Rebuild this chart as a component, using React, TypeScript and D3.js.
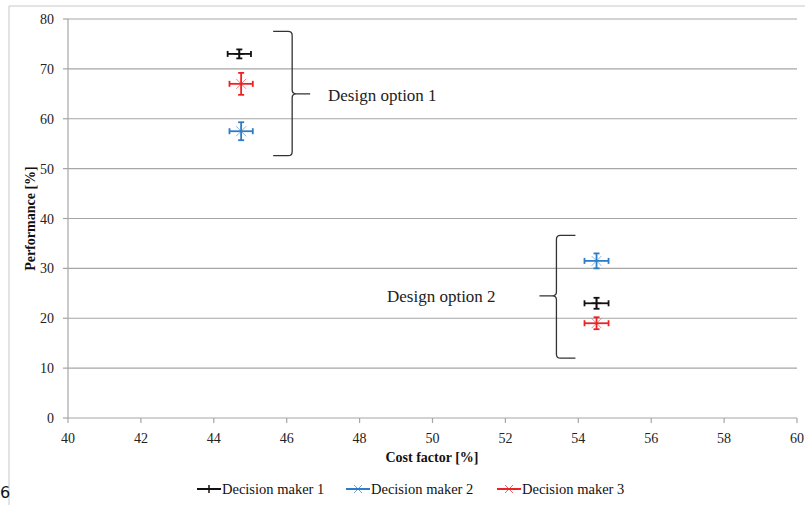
import React from "react";
import * as d3 from "d3";

// Decision makers and their ratings per design option
const makers = ["Decision maker 1", "Decision maker 2", "Decision maker 3"];
const makerColors = ["#111111", "#2f7cc6", "#ee2222"];
const makerMarkers = ["plus", "star", "star"];

// Design option 1
const opt1Cost = [44.7, 44.75, 44.75];
const opt1Perf = [73, 57.5, 67];
const opt1CostErr = [0.32, 0.32, 0.32];
const opt1PerfErr = [0.9, 1.8, 2.2];

// Design option 2
const opt2Cost = [54.5, 54.5, 54.5];
const opt2Perf = [23, 31.5, 19];
const opt2CostErr = [0.33, 0.33, 0.33];
const opt2PerfErr = [1.1, 1.5, 1.2];

const xTicks = [40, 42, 44, 46, 48, 50, 52, 54, 56, 58, 60];
const yTicks = [0, 10, 20, 30, 40, 50, 60, 70, 80];

const W = 805;
const H = 505;
const M = { left: 68, right: 8, top: 19, bottom: 87 };

const x = d3.scaleLinear().domain([40, 60]).range([M.left, W - M.right]);
const y = d3.scaleLinear().domain([0, 80]).range([H - M.bottom, M.top]);

const FONT = "'Liberation Serif', 'Times New Roman', serif";
const GRID = "#a6a6a6";

type Pt = { cx: number; cy: number; ex: number; ey: number; color: string; marker: string };

const points: Pt[] = [];
makers.forEach((_, i) => {
  points.push({ cx: opt1Cost[i], cy: opt1Perf[i], ex: opt1CostErr[i], ey: opt1PerfErr[i], color: makerColors[i], marker: makerMarkers[i] });
  points.push({ cx: opt2Cost[i], cy: opt2Perf[i], ex: opt2CostErr[i], ey: opt2PerfErr[i], color: makerColors[i], marker: makerMarkers[i] });
});

function Marker({ px, py, color, kind }: { px: number; py: number; color: string; kind: string }) {
  const s = 5;
  if (kind === "plus") {
    return (
      <g stroke={color} strokeWidth={1.5}>
        <line x1={px - s} x2={px + s} y1={py} y2={py} />
        <line x1={px} x2={px} y1={py - s} y2={py + s} />
      </g>
    );
  }
  return (
    <g stroke={color} strokeWidth={1} opacity={0.55}>
      <line x1={px - s} x2={px + s} y1={py - s} y2={py + s} />
      <line x1={px - s} x2={px + s} y1={py + s} y2={py - s} />
      <line x1={px} x2={px} y1={py - s} y2={py + s} />
    </g>
  );
}

function ErrorCross({ p }: { p: Pt }) {
  const px = x(p.cx);
  const py = y(p.cy);
  const x0 = x(p.cx - p.ex);
  const x1 = x(p.cx + p.ex);
  const y0 = y(p.cy - p.ey);
  const y1 = y(p.cy + p.ey);
  const c = 3;
  return (
    <g>
      <Marker px={px} py={py} color={p.color} kind={p.marker} />
      <g stroke={p.color} strokeWidth={1.8}>
        <line x1={x0} x2={x1} y1={py} y2={py} />
        <line x1={x0} x2={x0} y1={py - c} y2={py + c} />
        <line x1={x1} x2={x1} y1={py - c} y2={py + c} />
        <line x1={px} x2={px} y1={y0} y2={y1} />
        <line x1={px - c} x2={px + c} y1={y0} y2={y0} />
        <line x1={px - c} x2={px + c} y1={y1} y2={y1} />
      </g>
    </g>
  );
}

// Curly brace: vertical spine at xs from y top to y bottom, tip at yMid pointing in dir (+1 right, -1 left)
function Brace({ xs, yTop, yBot, yMid, dir, arm, tip }: { xs: number; yTop: number; yBot: number; yMid: number; dir: number; arm: number; tip: number }) {
  const r = 4;
  const d = [
    `M${xs - dir * arm},${yTop}`,
    `L${xs - dir * r},${yTop}`,
    `Q${xs},${yTop} ${xs},${yTop + r}`,
    `L${xs},${yMid - r}`,
    `Q${xs},${yMid} ${xs + dir * r},${yMid}`,
    `L${xs + dir * tip},${yMid}`,
    `M${xs + dir * r},${yMid}`,
    `Q${xs},${yMid} ${xs},${yMid + r}`,
    `L${xs},${yBot - r}`,
    `Q${xs},${yBot} ${xs - dir * r},${yBot}`,
    `L${xs - dir * arm},${yBot}`,
  ].join(" ");
  return <path d={d} fill="none" stroke="#333" strokeWidth={1.3} />;
}

export default function App() {
  return (
    <svg width={W} height={H} style={{ position: "absolute", left: 0, top: 0, background: "#fff" }}>
      {/* outer frame */}
      <path d={`M9,${H} L9,6 L${W},6`} fill="none" stroke="#c8c8c8" strokeWidth={1} />
      <text x={0} y={498} fontFamily="'DejaVu Sans', sans-serif" fontSize={16} fill="#111">6</text>

      {/* gridlines */}
      {yTicks.map((t) => (
        <line key={`g${t}`} x1={x(40)} x2={x(60)} y1={y(t)} y2={y(t)} stroke={GRID} strokeWidth={1.2} />
      ))}
      {/* y axis */}
      <line x1={x(40)} x2={x(40)} y1={y(0)} y2={y(80)} stroke={GRID} strokeWidth={1.2} />
      {yTicks.map((t) => (
        <g key={`yt${t}`}>
          <line x1={x(40) - 5} x2={x(40)} y1={y(t)} y2={y(t)} stroke={GRID} strokeWidth={1.2} />
          <text x={x(40) - 14} y={y(t) + 5} textAnchor="end" fontFamily={FONT} fontSize={14} fill="#222">{t}</text>
        </g>
      ))}
      {/* x axis ticks */}
      {xTicks.map((t) => (
        <g key={`xt${t}`}>
          <line x1={x(t)} x2={x(t)} y1={y(0)} y2={y(0) + 5} stroke={GRID} strokeWidth={1.2} />
          <text x={x(t)} y={y(0) + 25} textAnchor="middle" fontFamily={FONT} fontSize={14} fill="#222">{t}</text>
        </g>
      ))}

      {/* axis titles */}
      <text x={432} y={462} textAnchor="middle" fontFamily={FONT} fontSize={14} fontWeight="bold" fill="#111">Cost factor [%]</text>
      <text transform={`translate(35,${(y(0) + y(80)) / 2}) rotate(-90)`} textAnchor="middle" fontFamily={FONT} fontSize={14} fontWeight="bold" fill="#111">Performance [%]</text>

      {/* data */}
      {points.map((p, i) => (
        <ErrorCross key={i} p={p} />
      ))}

      {/* annotations */}
      <Brace xs={x(46.15)} yTop={y(77.5)} yBot={y(52.6)} yMid={y(65)} dir={1} arm={19} tip={18} />
      <text x={328} y={101} fontFamily={FONT} fontSize={17} fill="#222">Design option 1</text>
      <Brace xs={x(53.4)} yTop={y(36.6)} yBot={y(12)} yMid={y(24.5)} dir={-1} arm={19} tip={17} />
      <text x={387} y={302} fontFamily={FONT} fontSize={17} fill="#222">Design option 2</text>

      {/* legend */}
      {makers.map((m, i) => {
        const lx = [197, 346, 497][i];
        return (
          <g key={m}>
            <line x1={lx} x2={lx + 24} y1={489} y2={489} stroke={makerColors[i]} strokeWidth={2} />
            {makerMarkers[i] === "plus" ? (
              <line x1={lx + 12} x2={lx + 12} y1={485} y2={493} stroke={makerColors[i]} strokeWidth={1.5} />
            ) : (
              <g stroke={makerColors[i]} strokeWidth={1} opacity={0.7}>
                <line x1={lx + 8} x2={lx + 16} y1={485} y2={493} />
                <line x1={lx + 8} x2={lx + 16} y1={493} y2={485} />
              </g>
            )}
            <text x={lx + 25} y={494} fontFamily={FONT} fontSize={14.5} fill="#111">{m}</text>
          </g>
        );
      })}
    </svg>
  );
}
